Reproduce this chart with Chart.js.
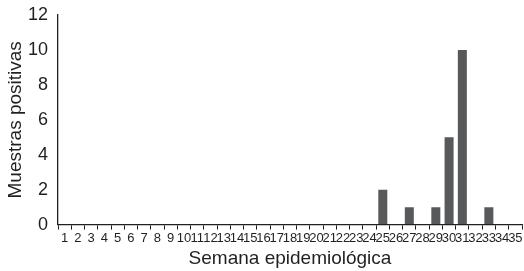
<!DOCTYPE html>
<html>
<head>
<meta charset="utf-8">
<script src="https://cdn.jsdelivr.net/npm/chart.js@4/dist/chart.umd.min.js"></script>
<style>
  html, body { margin: 0; padding: 0; background: #fff; }
  #wrap { width: 524px; height: 271px; }
</style>
</head>
<body>
<div id="wrap"><canvas id="c" width="524" height="271"></canvas></div>
<script>
const weeks = [];
for (let w = 1; w <= 35; w++) weeks.push(String(w));

const positives = [0,0,0,0,0,0,0,0,0,0, 0,0,0,0,0,0,0,0,0,0, 0,0,0,0,2,0,1,0,1,5, 10,0,1,0,0];

const yTicks = [0, 2, 4, 6, 8, 10, 12];

const ink = '#231f20';
const barColor = '#58595b';

new Chart(document.getElementById('c'), {
  type: 'bar',
  data: {
    labels: weeks,
    datasets: [{
      data: positives,
      backgroundColor: barColor,
      categoryPercentage: 1,
      barPercentage: 0.68
    }]
  },
  options: {
    responsive: false,
    animation: false,
    layout: { padding: { top: 15, right: 2, left: 0, bottom: 1 } },
    plugins: {
      legend: { display: false },
      tooltip: { enabled: false }
    },
    scales: {
      x: {
        grid: {
          drawOnChartArea: false,
          drawTicks: true,
          tickLength: 5,
          color: ink
        },
        border: { color: ink, width: 1.3 },
        ticks: {
          color: ink,
          autoSkip: false,
          maxRotation: 0,
          padding: 1,
          font: { family: 'Liberation Sans Narrow, Liberation Sans', size: 13 }
        },
        title: {
          display: true,
          text: 'Semana epidemiológica',
          color: ink,
          padding: { top: 0, bottom: 0 },
          font: { family: 'Liberation Sans', size: 19 }
        }
      },
      y: {
        min: 0,
        max: 12,
        afterBuildTicks: (axis) => { axis.ticks = yTicks.map(v => ({ value: v })); },
        afterFit: (axis) => { axis.width = 58; axis.paddingTop = 0; },
        grid: { drawOnChartArea: false, drawTicks: false },
        border: { color: ink, width: 1.3 },
        ticks: {
          color: ink,
          padding: 10,
          font: { family: 'Liberation Sans', size: 18 }
        },
        title: {
          display: true,
          text: 'Muestras positivas',
          color: ink,
          padding: { top: 4, bottom: 0 },
          font: { family: 'Liberation Sans', size: 19 }
        }
      }
    }
  }
});
</script>
</body>
</html>
